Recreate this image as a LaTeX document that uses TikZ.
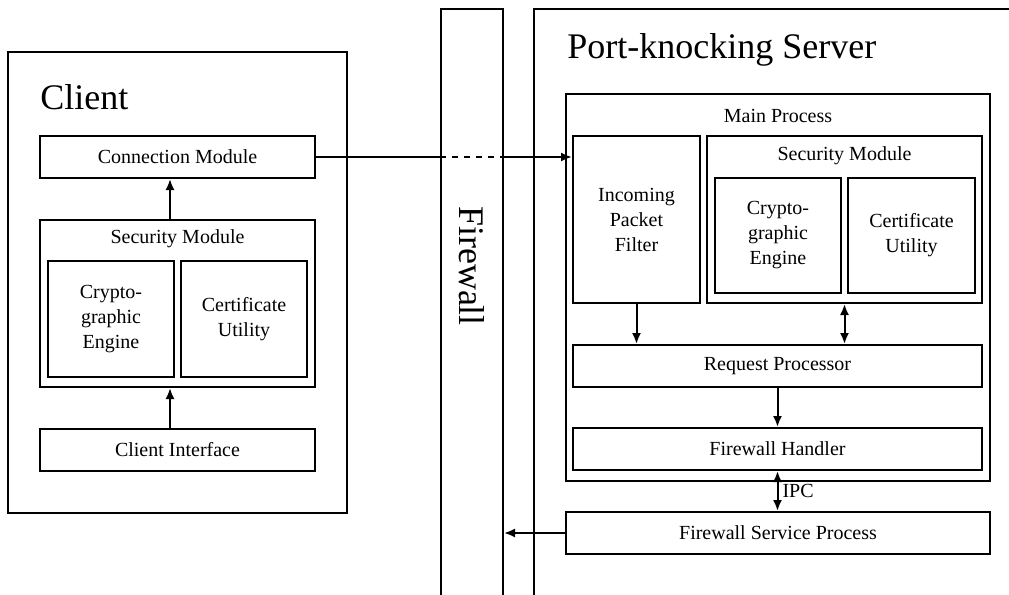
\documentclass[tikz,border=0pt]{standalone}
\usepackage{fontspec}
\setmainfont{Liberation Serif}
\usepackage{tikz}
\usetikzlibrary{positioning,arrows.meta,calc}

\begin{document}
\begin{tikzpicture}[x=0.5pt,y=-0.5pt,
  font=\fontsize{10}{12.5}\selectfont,
  box/.style={draw,line width=1pt,inner sep=0pt,align=center},
  title/.style={font=\fontsize{18}{21}\selectfont,anchor=west,inner sep=0pt},
  flow/.style={line width=1pt,-{Latex[length=5.5pt,width=4.5pt]}},
  both/.style={line width=1pt,{Latex[length=5.5pt,width=4.5pt]}-{Latex[length=5.5pt,width=4.5pt]}}
]
\useasboundingbox (0,0) rectangle (1009,595);
\clip (0,0) rectangle (1009,595);
% client side
\node[box,minimum width=169.5pt,minimum height=230.5pt] (client) at (177.5,282.5) {};
\node[title] (clienttitle) at (40,97) {Client};
\node[box,minimum width=137.5pt,minimum height=21pt] (conn) at (177.5,157) {Connection Module};
\node[box,minimum width=137.5pt,minimum height=83.5pt] (csec) at (177.5,303.5) {};
\node (cseclabel) at (177.5,239) {Security Module};
\node[box,minimum width=63pt,minimum height=58pt] (ccrypto) at (111,319) {Crypto-\\graphic\\Engine};
\node[box,minimum width=63pt,minimum height=58pt] (ccert) at (244,319) {Certificate\\Utility};
\node[box,minimum width=137.5pt,minimum height=21pt] (cui) at (177.5,450) {Client Interface};
% firewall
\node[box,minimum width=31pt,minimum height=320pt] (fw) at (472,329) {};
\node[font=\fontsize{18}{21}\selectfont,rotate=-90] (fwlabel) at (472,266) {Firewall};
% server side
\node[box,minimum width=250pt,minimum height=320pt] (server) at (784,329) {};
\node[title] (servertitle) at (567,50) {Port-knocking Server};
\node[box,minimum width=212pt,minimum height=193.5pt] (main) at (778,287.5) {};
\node (mainlabel) at (778,116) {Main Process};
\node[box,minimum width=63.5pt,minimum height=83.5pt] (ipf) at (636.5,219.5) {Incoming\\Packet\\Filter};
\node[box,minimum width=137.5pt,minimum height=83.5pt] (ssec) at (844.5,219.5) {};
\node (sseclabel) at (844.5,156) {Security Module};
\node[box,minimum width=63pt,minimum height=57.5pt] (scrypto) at (778,235.5) {Crypto-\\graphic\\Engine};
\node[box,minimum width=63.5pt,minimum height=57.5pt] (scert) at (911.5,235.5) {Certificate\\Utility};
\node[box,minimum width=204.5pt,minimum height=21pt] (reqp) at (777.5,366) {Request Processor};
\node[box,minimum width=204.5pt,minimum height=21pt] (fwh) at (777.5,449) {Firewall Handler};
\node[box,minimum width=212pt,minimum height=21pt] (fsp) at (778,533) {Firewall Service Process};
% connectors
\draw[flow] ([xshift=-3.75pt]cui.north) -- ([xshift=-3.75pt]csec.south);
\draw[flow] ([xshift=-3.75pt]csec.north) -- ([xshift=-3.75pt]conn.south);
\draw[line width=1pt] (conn.east) -- (conn.east -| fw.west);
\draw[line width=1pt,dashed] (conn.east -| fw.west) -- (conn.east -| fw.east);
\draw[flow] (conn.east -| fw.east) -- (conn.east -| ipf.west);
\draw[flow] (ipf.south) -- (ipf.south |- reqp.north);
\draw[both] (ssec.south) -- (ssec.south |- reqp.north);
\draw[flow] (reqp.south) -- (fwh.north);
\draw[both] (fwh.south) -- node[right,inner sep=2pt] {IPC} (fwh.south |- fsp.north);
\draw[flow] (fsp.west) -- (fsp.west -| fw.east);
\end{tikzpicture}
\end{document}
